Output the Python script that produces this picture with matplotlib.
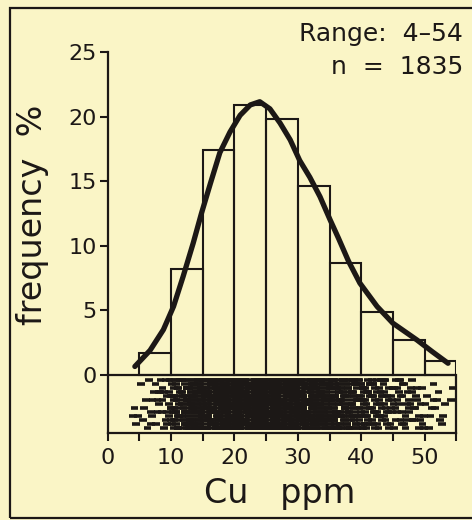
import matplotlib
matplotlib.use("Agg")
import matplotlib.pyplot as plt
import matplotlib.patches as mpatches
import numpy as np

# histogram, 5 ppm classes
bin_left = [5, 10, 15, 20, 25, 30, 35, 40, 45, 50]
freq_pct = [1.7, 8.2, 17.4, 20.9, 19.8, 14.6, 8.7, 4.9, 2.7, 1.1]

# fitted curve
curve_x = [4.3, 6.7, 8.8, 10.4, 11.9, 13.5, 14.8, 16.2, 17.7, 19.3, 20.9, 22.5, 24.0,
           25.6, 27.2, 28.8, 30.3, 31.9, 33.5, 35.1, 36.4, 38.0, 39.8, 42.5, 45.0,
           48.8, 51.2, 53.7]
curve_y = [0.65, 1.9, 3.5, 5.3, 7.6, 10.2, 12.5, 14.8, 17.2, 18.8, 20.1, 20.9, 21.15,
           20.6, 19.5, 18.2, 16.6, 15.3, 13.8, 12.0, 10.6, 8.8, 7.1, 5.3, 4.0,
           2.7, 1.8, 0.9]

# samples per ppm value (4..54), estimated from the strip below the histogram
cu_values = list(range(4, 55))
cu_counts = [2, 3, 4, 6, 8, 10, 18, 24, 30, 36, 44, 52, 58, 64, 70, 75, 76, 77, 77,
             76, 76, 75, 74, 73, 71, 70, 64, 58, 53, 49, 44, 40, 35, 32, 28, 25, 22,
             20, 18, 16, 14, 12, 11, 10, 9, 8, 6, 5, 4, 3, 2]

bg = "#faf5c6"
ink = "#1c1816"

fig = plt.figure(figsize=(4.72, 5.2), dpi=100, facecolor=bg)
fig.patches.append(mpatches.Rectangle((10 / 472, 2 / 520), 1.0, 1 - 10 / 520,
                                      transform=fig.transFigure, fill=False,
                                      edgecolor=ink, linewidth=1.6))

ax = fig.add_axes([107.6 / 472, 87 / 520, 348.7 / 472, 381 / 520])
ax.set_facecolor(bg)

ax.bar(bin_left, freq_pct, width=5, align="edge", fill=False, edgecolor=ink,
       linewidth=1.5, zorder=2)
ax.plot(curve_x, curve_y, color=ink, linewidth=3.8, solid_capstyle="round",
        solid_joinstyle="round", zorder=3)

# strip of individual samples
nrows = 13
xs, ys = [], []
k = 0
for v, c in zip(cu_values, cu_counts):
    for j in range(c):
        k += 1
        xs.append(v + ((k * 0.7548776) % 1.0) - 0.5)
        row = int(((k * 0.5698403 + j * 0.618034) % 1.0) * nrows)
        ys.append(-0.4 - row * 0.31)
xs = np.array(xs)
ax.hlines(ys, xs - 0.6, xs + 0.6, color=ink, linewidth=2.6, zorder=2)

ax.axhline(0, color=ink, linewidth=1.6, zorder=4)
ax.plot([55, 55], [-4.5, 0], color=ink, linewidth=1.6, clip_on=False, zorder=4)

ax.set_xlim(0, 55)
ax.set_ylim(-4.5, 25)
ax.spines["top"].set_visible(False)
ax.spines["right"].set_visible(False)
for s in ("left", "bottom"):
    ax.spines[s].set_linewidth(1.6)
    ax.spines[s].set_color(ink)

ax.set_xticks(range(0, 56, 5))
ax.set_xticklabels([str(t) if t % 10 == 0 else "" for t in range(0, 56, 5)])
ax.set_yticks(range(0, 26, 5))
ax.tick_params(direction="out", length=6, width=1.5, color=ink, labelcolor=ink,
               labelsize=16)
ax.tick_params(axis="y", pad=2)
ax.tick_params(axis="x", pad=5)

fig.text(463 / 472, 1 - 41 / 520, "Range:  4\u201354", ha="right", va="baseline",
         fontsize=18, color=ink)
fig.text(463 / 472, 1 - 74 / 520, "n  =  1835", ha="right", va="baseline",
         fontsize=18, color=ink)
fig.text(33 / 472, 1 - 215 / 520, "frequency  %", rotation=90, ha="center",
         va="center", fontsize=24, color=ink)
fig.text(280 / 472, 1 - 503 / 520, "Cu   ppm", ha="center", va="baseline",
         fontsize=24, color=ink)

fig.savefig("out.png", dpi=100, facecolor=bg)
